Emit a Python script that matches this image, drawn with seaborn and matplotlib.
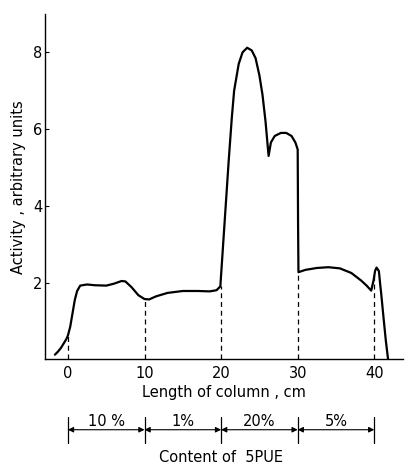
import matplotlib
matplotlib.use("Agg")
import matplotlib.pyplot as plt
import seaborn as sns
import pandas as pd

# ---- data ----
length_cm = [-1.7, -1.3, -0.9, -0.5, -0.2, 0.0, 0.3, 0.6, 0.9, 1.2, 1.6, 2.5, 3.5, 5.0, 6.0, 7.0, 7.5,
             8.3, 9.2, 10.0, 10.6, 11.5, 13.0, 15.0, 17.0, 18.5, 19.4, 19.9,
             20.3, 20.7, 21.0, 21.4, 21.7, 22.3, 22.8, 23.4, 24.0, 24.5, 25.0, 25.4,
             25.8, 26.2, 26.5, 27.0, 27.8, 28.5, 29.2, 29.7, 30.0, 30.05, 30.1,
             31.0, 32.5, 34.0, 35.5, 37.0, 38.3, 39.0, 39.6, 39.9, 40.1, 40.3,
             40.6, 40.8, 40.9, 41.2, 41.5, 41.8]
activity = [0.12, 0.2, 0.3, 0.43, 0.53, 0.62, 0.85, 1.2, 1.55, 1.78, 1.92, 1.95, 1.93, 1.92, 1.97, 2.04, 2.03,
            1.88, 1.67, 1.57, 1.56, 1.64, 1.73, 1.78, 1.78, 1.77, 1.8, 1.9,
            3.1, 4.3, 5.2, 6.3, 7.0, 7.7, 8.0, 8.12, 8.05, 7.85, 7.4, 6.9,
            6.2, 5.3, 5.65, 5.82, 5.9, 5.9, 5.82, 5.65, 5.47, 3.5, 2.27,
            2.33, 2.38, 2.4, 2.37, 2.25, 2.05, 1.92, 1.79, 2.05, 2.3, 2.39,
            2.3, 1.9, 1.72, 1.1, 0.5, 0.0]

boundary_x = [0, 10, 20, 30, 40]
boundary_top = [0.62, 1.57, 1.9, 2.27, 2.2]

segment_labels = ["10 %", "1%", "20%", "5%"]

x_ticks = [0, 10, 20, 30, 40]
y_ticks = [2, 4, 6, 8]

df = pd.DataFrame({"length": length_cm, "activity": activity})

sns.set_style("ticks")
plt.rcParams["font.family"] = ["DejaVu Sans"]

fig = plt.figure(figsize=(4.05, 4.66), dpi=100)
ax = fig.add_axes([0.111, 0.229, 0.885, 0.741])

sns.lineplot(data=df, x="length", y="activity", sort=False, estimator=None,
             color="black", linewidth=1.6, ax=ax)

ax.vlines(boundary_x, 0, boundary_top, colors="black", linestyles=(0, (4, 3)),
          linewidth=0.9)

ax.set_xlim(-3, 43.8)
ax.set_ylim(0, 9)
ax.set_xticks(x_ticks)
ax.set_yticks(y_ticks)
ax.tick_params(axis="x", length=0, labelsize=10.5, pad=5, labelcolor="black")
ax.tick_params(axis="y", direction="in", length=3, labelsize=10.5, pad=2,
               labelcolor="black", color="black")
sns.despine(ax=ax)
for s in ["left", "bottom"]:
    ax.spines[s].set_linewidth(1.0)
    ax.spines[s].set_color("black")

ax.set_xlabel("Length of column , cm", fontsize=10.5, labelpad=3, color="black")
ax.set_ylabel("Activity , arbitrary units", fontsize=10.5, labelpad=5, color="black")

# Bottom dimension annotation (content of 5PUE)
trans = ax.get_xaxis_transform()
y_line = -0.204
for xb in boundary_x:
    ax.plot([xb, xb], [-0.168, -0.243], transform=trans, color="black",
            linewidth=0.9, clip_on=False)
for i, lab in enumerate(segment_labels):
    x0, x1 = boundary_x[i], boundary_x[i + 1]
    ax.annotate("", xy=(x0, y_line), xytext=(x1, y_line), xycoords=trans,
                textcoords=trans,
                arrowprops=dict(arrowstyle="<|-|>", color="black", lw=0.8,
                                mutation_scale=8, shrinkA=0, shrinkB=0))
    ax.text((x0 + x1) / 2, y_line + 0.003, lab, transform=trans, ha="center",
            va="bottom", fontsize=10.5, color="black",
            bbox=dict(facecolor="white", edgecolor="none", pad=0.5))

ax.text(20, -0.283, "Content of  5PUE", transform=trans, ha="center",
        va="center", fontsize=10.5, color="black")

fig.savefig("out.png", dpi=100)
